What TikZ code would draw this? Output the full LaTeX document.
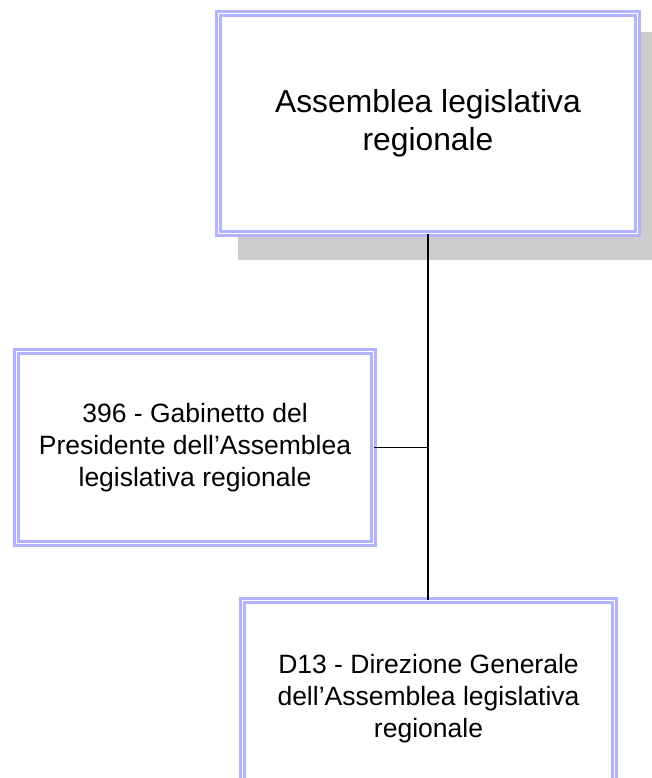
\documentclass[tikz,border=0pt]{standalone}
\usepackage{fontspec}
\setmainfont{Liberation Sans}
\usetikzlibrary{calc,backgrounds}
\definecolor{lavender}{RGB}{178,178,255}
\definecolor{shadowgray}{RGB}{204,204,204}
\tikzset{
  unit/.style={draw=lavender,line width=2.7pt,double=white,double distance=1.6pt,
    fill=white,rectangle,outer sep=0pt,align=center,inner sep=0pt},
  wire/.style={line width=1.5pt,black}
}
\begin{document}
\begin{tikzpicture}[x=1pt,y=-1pt]
  \useasboundingbox (0,0) rectangle (652,778);
  \node[unit,minimum width=419.2pt,minimum height=220.2pt,font=\fontsize{31.8}{38}\selectfont]
    (assemblea) at (428,123.5) {Assemblea legislativa\\regionale}; % top box
  \node[unit,minimum width=357.2pt,minimum height=192.2pt,font=\fontsize{26.5}{32}\selectfont]
    (gabinetto) at (195,447.5) {396 - Gabinetto del\\Presidente dell’Assemblea\\legislativa regionale}; % left box
  \node[unit,minimum width=372.2pt,minimum height=196pt,font=\fontsize{26.5}{32}\selectfont]
    (direzione) at (428.5,698.4) {D13 - Direzione Generale\\dell’Assemblea legislativa\\regionale}; % bottom box
  \begin{scope}[on background layer]
    \fill[shadowgray] ($(assemblea.north west)+(19.6,18.6)$) rectangle ($(assemblea.south east)+(26.4,26.4)$); % shadow
  \end{scope}
  \draw[wire] (assemblea.south) -- (assemblea.south |- direzione.north); % trunk
  \draw[wire] (gabinetto.east) -- (gabinetto.east -| assemblea.south); % branch
\end{tikzpicture}
\end{document}
